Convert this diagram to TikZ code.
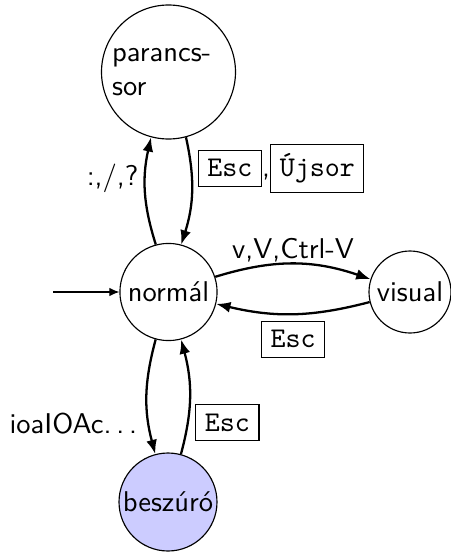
\documentclass[tikz,border=0pt]{standalone}
\usetikzlibrary{arrows.meta}
\begin{document}
\begin{tikzpicture}[x=0.35pt,y=-0.35pt,font=\sffamily,
  state/.style={circle,draw,line width=0.4pt,inner sep=0pt},
  trans/.style={-{Latex[length=5pt,width=3.8pt]},line width=0.8pt},
  lbl/.style={inner sep=2pt}]
\useasboundingbox (0,0) rectangle (451,553);
\definecolor{insfill}{RGB}{204,204,255}
\node[state,minimum size=46.9pt,text width=39.5pt,align=left] (P) at (168.5,72) {parancs-\\sor};
\node[state,minimum size=34pt] (N) at (168.5,292) {normál};
\node[state,minimum size=28.7pt] (V) at (410,292) {visual};
\node[state,minimum size=34.3pt,fill=insfill] (B) at (168,502) {beszúró};
\coordinate (S) at (53,292);
\draw[-{Latex[length=3.5pt,width=3pt]},line width=0.4pt] (S) -- (N);
\draw[trans] (N) to[bend left=15] node[pos=0.63,anchor=east,lbl] {:,/,?} (P);
\draw[trans] (P) to[bend left=15] node[pos=0.25,anchor=west,lbl,yshift=-1pt] {\fbox{\texttt{Esc}},\fbox{\texttt{Újsor}}} (N);
\draw[trans] (N) to[bend left=18] node[midway,anchor=south,lbl,yshift=-1.6pt] {v,V,Ctrl-V} (V);
\draw[trans] (V) to[bend left=14] node[midway,anchor=north,lbl] {\fbox{\texttt{Esc}}} (N);
\draw[trans] (N) to[bend right=15] node[pos=0.75,anchor=east,lbl] {ioaIOAc.\kern1.7pt.\kern1.7pt.\kern1.7pt} (B);
\draw[trans] (B) to[bend right=15] node[pos=0.3,anchor=west,lbl,yshift=-1.5pt] {\fbox{\texttt{Esc}}} (N);
\end{tikzpicture}
\end{document}
